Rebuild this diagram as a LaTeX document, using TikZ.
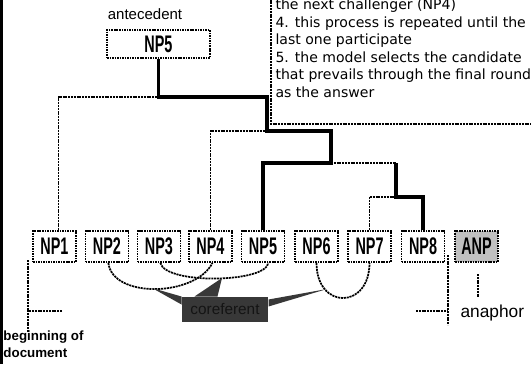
\documentclass[tikz,border=0pt]{standalone}
\usepackage{fontspec}
\setmainfont{Liberation Sans}
\newfontfamily\npfont{Liberation Sans}[FakeStretch=0.6]
\newfontfamily\notefont{DejaVu Sans}
\usetikzlibrary{calc}

\definecolor{anpgray}{RGB}{192,192,192}
\definecolor{calloutgray}{RGB}{56,56,56}
\definecolor{callouttext}{RGB}{20,20,20}

\tikzset{every picture/.style={line width=0.75pt}}
\tikzset{
  npbox/.style={draw, dash pattern={on 1.2pt off 0.7pt}, line width=1.2pt, minimum width=32.25pt, minimum height=23.25pt, inner sep=0pt, font=\npfont\bfseries\fontsize{18}{18}\selectfont},
  topbox/.style={npbox, minimum width=77.25pt, minimum height=21pt},
  winner/.style={line width=2.4pt},
  loser/.style={dash pattern={on 1.5pt off 0.6pt}, line width=1pt},
  corefarc/.style={dash pattern={on 1.6pt off 0.6pt}, line width=1.3pt},
  notetext/.style={anchor=base west, inner sep=0pt, font=\notefont\fontsize{10.55}{13.2}\selectfont},
}

\begin{document}
\begin{tikzpicture}[x=0.75pt,y=0.75pt,yscale=-1,xscale=1]
        \useasboundingbox (0,0) rectangle (531,364);
        \clip (0,0) rectangle (531,364);

        %Shape: left edge bar
        \fill (0,0) rectangle (2.5,364);

        % Text Node
        \node [anchor=base, inner sep=0pt, font=\fontsize{11.25}{13}\selectfont] (antlabel) at (145,19.5) {antecedent};
        %Shape: Rectangle
        \node [topbox] (top) at (158.5,44) {NP5};

        %Shape: Rectangle (candidates)
        \node [npbox] (np1) at (54.5,246.5) {NP1};
        \node [npbox] (np2) at (107,246.5) {NP2};
        \node [npbox] (np3) at (159,246.5) {NP3};
        \node [npbox] (np4) at (210.5,246.5) {NP4};
        \node [npbox] (np5) at (263,246.5) {NP5};
        \node [npbox] (np6) at (316.5,246.5) {NP6};
        \node [npbox] (np7) at (369.5,246.5) {NP7};
        \node [npbox] (np8) at (423,246.5) {NP8};
        \node [npbox, fill=anpgray] (anp) at (476.5,246.5) {ANP};

        % tournament joints
        \coordinate (jA) at (158.5,97);
        \coordinate (jB) at (267,97);
        \coordinate (jC) at (267,131);
        \coordinate (jD) at (331,131);
        \coordinate (jE) at (331,163);
        \coordinate (jF) at (396,163);
        \coordinate (jG) at (396,197);

        %Straight Lines (losers)
        \draw [loser] ([xshift=3]np1.north) |- (jA);
        \draw [loser] (np4.north) |- (jC);
        \draw [loser] (jE) -- (jF);
        \draw [loser] (np7.north) |- (jG);
        %Straight Lines (winners)
        \draw [winner] (top.south) -- (jA) -- (jB) -- (jC) -- (jD) -- (jE) -| (np5.north);
        \draw [winner] (np8.north) |- (jG) -- (jF);

        %Shape: Note box
        \draw [loser] (271,-20) -- (271,124) -- (560,124);
        % Text Node
        \node [notetext] (note1) at (275,9.4) {the next challenger (NP4)};
        \node [notetext] (note2) at (275,27) {4. this process is repeated until the};
        \node [notetext] (note3) at (275,44.6) {last one participate};
        \node [notetext] (note4) at (275,62.2) {5. the model selects the candidate};
        \node [notetext] (note5) at (275,79.8) {that prevails through the final round};
        \node [notetext] (note6) at (275,97.4) {as the answer};

        %Curve Lines
        \draw [corefarc] ([xshift=1]np2.south) .. controls +(4,36) and +(-17,34) .. ([xshift=1.5]np4.south);
        \draw [corefarc] ([xshift=1]np3.south) .. controls +(5,22) and +(-2,20) .. ([xshift=4]np5.south);
        \draw [corefarc] (np6.south) .. controls +(0,47) and +(0,47) .. (np7.south);

        %Shape: Callout
        \node [fill=calloutgray, text=callouttext, minimum width=64.5pt, minimum height=18.75pt, inner sep=0pt, font=\fontsize{11.5}{13}\selectfont] (coref) at (225,309.5) {coreferent};
        \coordinate (tipL) at (152,288);
        \coordinate (tipM) at (222,278);
        \coordinate (tipR) at (327,289);
        \fill [calloutgray] (tipL) -- (coref.north west) -- ($(coref.north west)+(0,8)$) -- cycle;
        \fill [calloutgray] (tipM) -- ($(coref.north west)+(13,0)$) -- ($(coref.north west)+(36,0)$) -- cycle;
        \fill [calloutgray] (tipR) -- ($(coref.north east)+(0,3)$) -- ($(coref.north east)+(0,10)$) -- cycle;

        %Straight Lines (beginning of document)
        \coordinate (docA) at (28,260);
        \coordinate (docB) at (28,332);
        \coordinate (docC) at (62,311);
        \draw [loser] (docA) -- (docB);
        \draw [loser] (docC) -- (docC -| docA);
        % Text Node
        \node [anchor=north west, inner sep=0pt, align=left, font=\bfseries\fontsize{10}{12.4}\selectfont] (doclabel) at (3,330.5) {beginning of\\document};

        %Straight Lines (anaphor)
        \coordinate (anaA) at (448,255);
        \coordinate (anaB) at (448,325);
        \coordinate (anaC) at (416,311);
        \draw [loser] (anaA) -- (anaB);
        \draw [loser] (anaC) -- (anaC -| anaA);
        \draw [loser] (478,274) -- (478,297);
        % Text Node
        \node [anchor=base west, inner sep=0pt, font=\fontsize{13}{15}\selectfont] (analabel) at (460,317) {anaphor};

\end{tikzpicture}
\end{document}
